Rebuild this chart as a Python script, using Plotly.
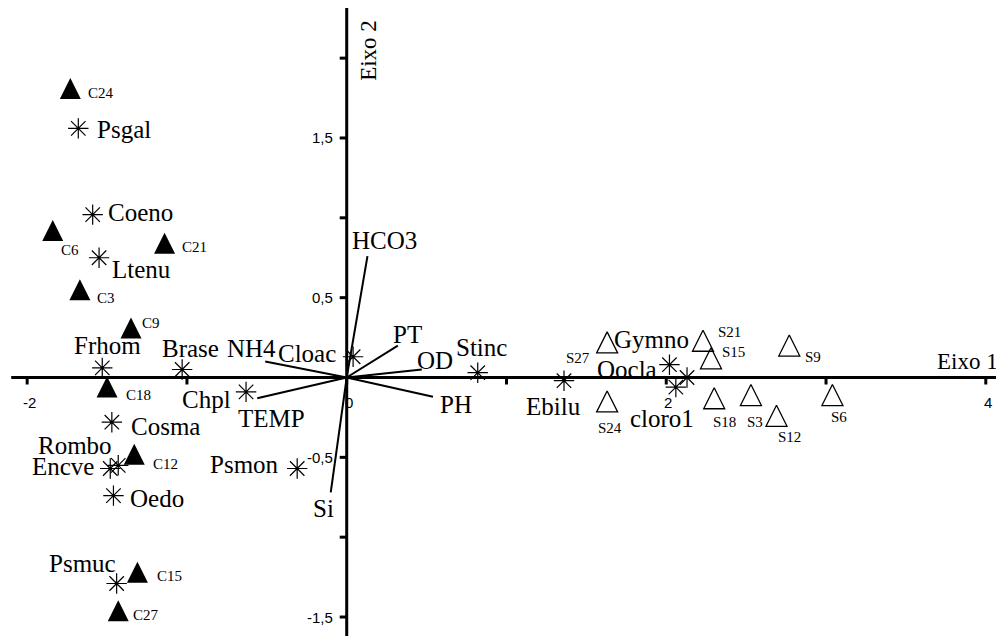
import plotly.graph_objects as go

# ---- data (axis 1 / axis 2 scores) ----
site_c_names = ["C24", "C6", "C21", "C3", "C9", "C18", "C12", "C15", "C27"]
site_c_x = [-1.73, -1.84, -1.14, -1.67, -1.35, -1.50, -1.33, -1.31, -1.43]
site_c_y = [1.81, 0.92, 0.84, 0.55, 0.31, -0.06, -0.48, -1.22, -1.46]

site_s_names = ["S27", "S24", "S21", "S15", "S18", "S3", "S12", "S9", "S6"]
site_s_x = [1.63, 1.63, 2.23, 2.28, 2.30, 2.53, 2.69, 2.77, 3.04]
site_s_y = [0.22, -0.15, 0.23, 0.12, -0.13, -0.11, -0.24, 0.20, -0.11]

species_names = ["Psgal", "Coeno", "Ltenu", "Frhom", "Brase", "Chpl", "Cosma",
                 "Rombo", "Encve", "Oedo", "Psmuc", "Psmon", "Cloac", "Stinc",
                 "Ebilu", "Gymno", "Oocla", "cloro1"]
species_x = [-1.68, -1.59, -1.55, -1.53, -1.03, -0.63, -1.47, -1.43, -1.48,
             -1.46, -1.44, -0.31, 0.04, 0.82, 1.36, 2.02, 2.13, 2.06]
species_y = [1.56, 1.02, 0.75, 0.06, 0.05, -0.09, -0.28, -0.55, -0.57,
             -0.74, -1.29, -0.57, 0.13, 0.03, -0.02, 0.08, 0.0, -0.06]

env_names = ["HCO3", "PT", "OD", "PH", "NH4", "TEMP", "Si"]
env_x = [0.13, 0.32, 0.47, 0.54, -0.51, -0.56, -0.10]
env_y = [0.76, 0.20, 0.05, -0.12, 0.10, -0.13, -0.72]

x_ticks = [-2, -1, 0, 1, 2, 3, 4]
x_tick_labels = {-2: "-2", 0: "0", 2: "2", 4: "4"}
y_ticks = [-1.5, -1.0, -0.5, 0.5, 1.0, 1.5, 2.0]
y_tick_labels = {1.5: "1,5", 0.5: "0,5", -0.5: "-0,5", -1.5: "-1,5"}

# ---- label placement (pixel offsets from the mark: right, down) ----
label_offsets = {
    "C24": (31, 5), "C6": (17, 19), "C21": (30, 4), "C3": (26, 8), "C9": (20, -5),
    "C18": (31, 8), "C12": (31, 10), "C15": (32, 4), "C27": (28, 4),
    "S27": (-29, 16), "S24": (3, 27), "S21": (26, -9), "S15": (23, -6),
    "S18": (10, 24), "S3": (4, 27), "S12": (13, 21), "S9": (24, 11), "S6": (7, 22),
    "Psgal": (46, 1), "Coeno": (48, -2), "Ltenu": (42, 12), "Frhom": (5, -22),
    "Brase": (8, -21), "Chpl": (-40, 8), "Cosma": (54, 4), "Rombo": (-43, -20),
    "Encve": (-47, -2), "Oedo": (44, 3), "Psmuc": (-34, -20), "Psmon": (-53, -4),
    "Cloac": (-46, -3), "Stinc": (4, -25), "Ebilu": (-11, 26), "Gymno": (-18, -25),
    "Oocla": (-60, -8), "cloro1": (-14, 31),
    "HCO3": (17, -16), "PT": (10, -11), "OD": (13, -9), "PH": (23, 8),
    "NH4": (-14, -13), "TEMP": (14, 20), "Si": (-7, 16),
}

W, H = 1004, 636
# the page puts the figure 8 px in from the corner, so the ranges are set
# to keep the origin where it sits in the reference
X_RANGE = [-2.12, 4.164]
Y_RANGE = [-1.669, 2.314]
PX_PER_Y = H / (Y_RANGE[1] - Y_RANGE[0])

SERIF = "Liberation Serif, Times New Roman, serif"
SANS = "Liberation Sans, Arial, sans-serif"
TRI_SIZE = 21

fig = go.Figure()

# environmental vectors from the origin
vx, vy = [], []
for x, y in zip(env_x, env_y):
    vx += [0, x, None]
    vy += [0, y, None]
fig.add_trace(go.Scatter(x=vx, y=vy, mode="lines",
                         line=dict(color="black", width=2), hoverinfo="skip"))

# arrow-up symbol hangs below its anchor, so lift the anchor by half the height
lift = (TRI_SIZE / 2) / PX_PER_Y
fig.add_trace(go.Scatter(
    x=site_c_x, y=[v + lift for v in site_c_y], mode="markers",
    marker=dict(symbol="arrow-up", size=TRI_SIZE, color="black", line=dict(width=0)),
))
fig.add_trace(go.Scatter(
    x=site_s_x, y=[v + lift for v in site_s_y], mode="markers",
    marker=dict(symbol="arrow-up-open", size=TRI_SIZE, color="black",
                line=dict(width=1.3, color="black")),
))
fig.add_trace(go.Scatter(
    x=species_x, y=species_y, mode="markers",
    marker=dict(symbol="asterisk-open", size=17, color="black",
                line=dict(width=1.2, color="black")),
))

annotations = []


def add_labels(names, xs, ys, size):
    for name, x, y in zip(names, xs, ys):
        dx, dy = label_offsets[name]
        annotations.append(dict(
            x=x, y=y, xref="x", yref="y", text=name, showarrow=False,
            xshift=dx, yshift=-dy, font=dict(family=SERIF, size=size, color="black"),
        ))


add_labels(site_c_names, site_c_x, site_c_y, 15)
add_labels(site_s_names, site_s_x, site_s_y, 15)
add_labels(species_names, species_x, species_y, 25)
add_labels(env_names, env_x, env_y, 25)

# axes drawn through the origin
shapes = [
    dict(type="line", xref="x", yref="y", x0=-2.10, x1=X_RANGE[1], y0=0, y1=0,
         line=dict(color="black", width=3)),
    dict(type="line", xref="x", yref="y", x0=0, x1=0, y0=Y_RANGE[0], y1=Y_RANGE[1],
         line=dict(color="black", width=3)),
]
for t in x_ticks:
    shapes.append(dict(type="line", xref="x", yref="y", ysizemode="pixel", yanchor=0,
                       x0=t, x1=t, y0=0, y1=-7, line=dict(color="black", width=3)))
    if t in x_tick_labels:
        annotations.append(dict(x=t, y=0, xref="x", yref="y", text=x_tick_labels[t],
                                showarrow=False, yshift=-25, xshift=2,
                                font=dict(family=SANS, size=15, color="black")))
for t in y_ticks:
    shapes.append(dict(type="line", xref="x", yref="y", xsizemode="pixel", xanchor=0,
                       x0=0, x1=-7, y0=t, y1=t, line=dict(color="black", width=3)))
    if t in y_tick_labels:
        annotations.append(dict(x=0, y=t, xref="x", yref="y", text=y_tick_labels[t],
                                showarrow=False, xanchor="right", xshift=-12,
                                font=dict(family=SANS, size=15, color="black")))

annotations.append(dict(x=4.088, y=0, xref="x", yref="y", text="Eixo 1",
                        showarrow=False, xanchor="right", yshift=16,
                        font=dict(family=SERIF, size=23, color="black")))
annotations.append(dict(x=0, y=2.05, xref="x", yref="y", text="Eixo 2",
                        showarrow=False, textangle=-90, xshift=21,
                        font=dict(family=SERIF, size=23, color="black")))

fig.update_layout(
    width=W, height=H,
    margin=dict(l=0, r=0, t=0, b=0),
    paper_bgcolor="white", plot_bgcolor="white",
    showlegend=False,
    xaxis=dict(range=X_RANGE, visible=False, fixedrange=True),
    yaxis=dict(range=Y_RANGE, visible=False, fixedrange=True),
    shapes=shapes,
    annotations=annotations,
)

fig.write_html("out.html")
